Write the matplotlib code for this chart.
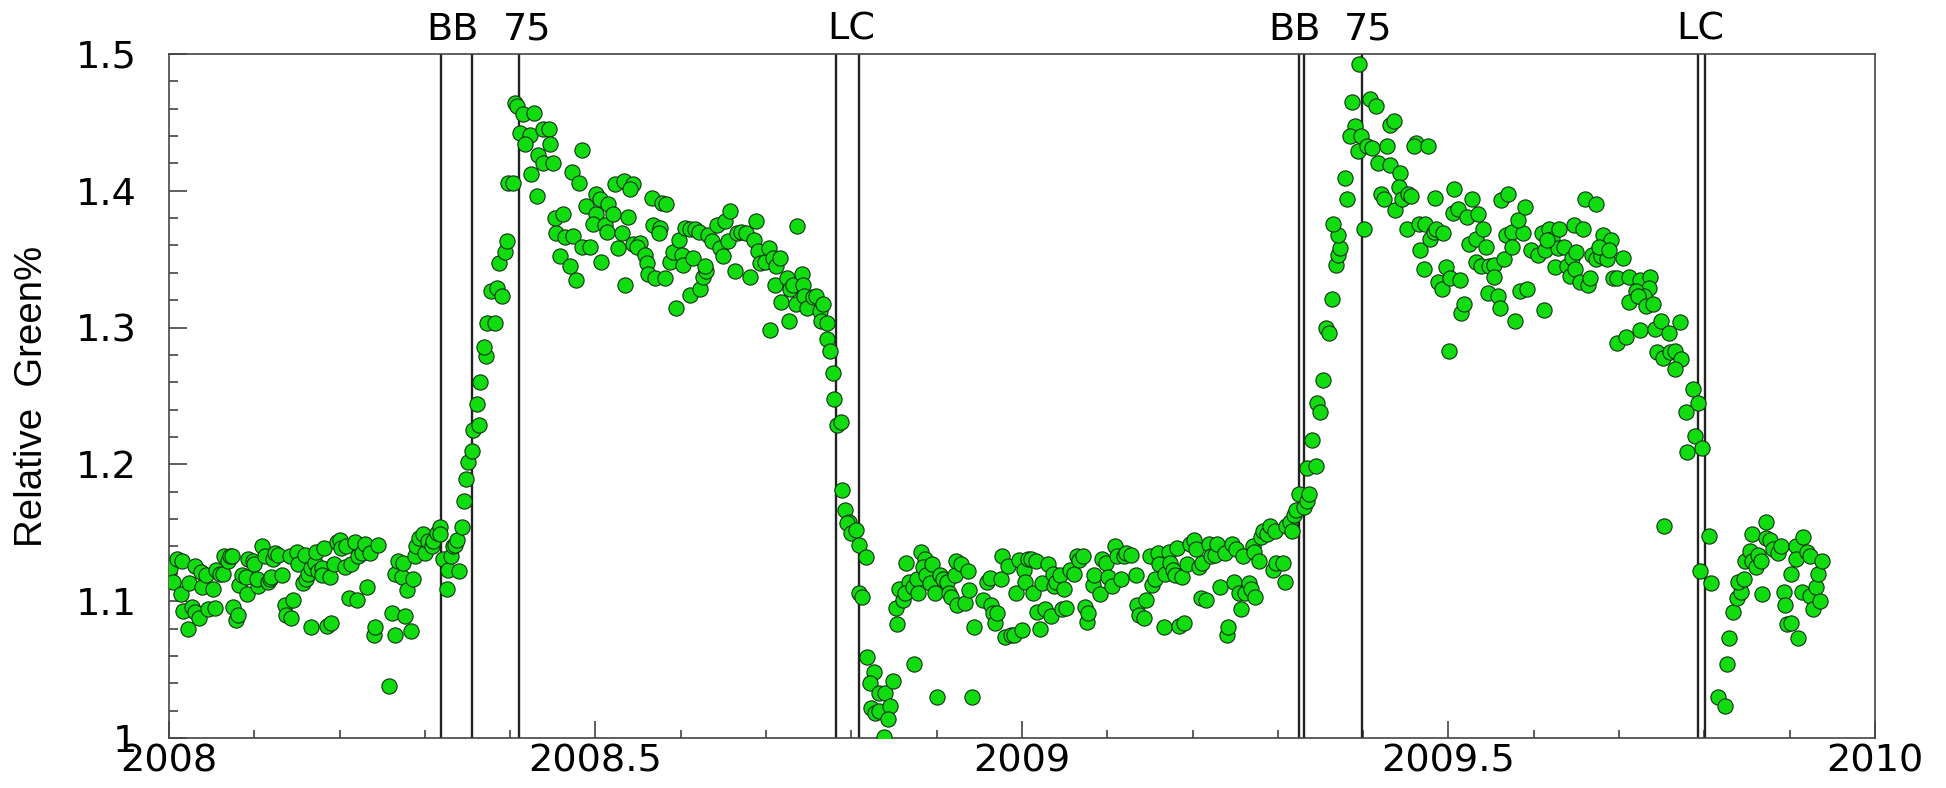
import numpy as np
import matplotlib
matplotlib.use("Agg")
import matplotlib.pyplot as plt

# winter / spring 2008 up to the first green-up
t_2008a = [2008.001, 2008.005, 2008.009, 2008.015, 2008.014, 2008.017, 2008.022, 2008.023, 2008.027, 2008.031,
           2008.030, 2008.035, 2008.038, 2008.039, 2008.044, 2008.046, 2008.052, 2008.054, 2008.055, 2008.060,
           2008.063, 2008.064, 2008.069, 2008.072, 2008.074, 2008.075, 2008.079, 2008.081, 2008.082, 2008.086,
           2008.091, 2008.090, 2008.093, 2008.099, 2008.100, 2008.105, 2008.103, 2008.109, 2008.113, 2008.116,
           2008.118, 2008.120, 2008.122, 2008.124, 2008.128, 2008.133, 2008.136, 2008.137, 2008.143, 2008.142,
           2008.146, 2008.150, 2008.151, 2008.157, 2008.159, 2008.161, 2008.163, 2008.167, 2008.167, 2008.171,
           2008.173, 2008.175, 2008.179, 2008.180, 2008.182, 2008.185, 2008.190, 2008.189, 2008.193, 2008.197,
           2008.200, 2008.202, 2008.206, 2008.208, 2008.211, 2008.214, 2008.220, 2008.218, 2008.222, 2008.226,
           2008.230, 2008.232, 2008.236, 2008.240, 2008.242, 2008.245, 2008.258, 2008.262, 2008.265, 2008.265,
           2008.268, 2008.273, 2008.275, 2008.277, 2008.279, 2008.284, 2008.286, 2008.288, 2008.290, 2008.293,
           2008.298, 2008.300, 2008.304, 2008.308, 2008.310, 2008.314, 2008.318, 2008.318, 2008.321, 2008.326,
           2008.327, 2008.331, 2008.333, 2008.335, 2008.338, 2008.340, 2008.343, 2008.346, 2008.348, 2008.351,
           2008.355, 2008.356, 2008.361, 2008.364]
g_2008a = [1.124, 1.114, 1.131, 1.129, 1.105, 1.093, 1.080, 1.113, 1.096, 1.126,
           1.092, 1.088, 1.121, 1.110, 1.119, 1.094, 1.109, 1.095, 1.123, 1.120,
           1.120, 1.133, 1.129, 1.133, 1.133, 1.096, 1.086, 1.090, 1.112, 1.119,
           1.105, 1.118, 1.131, 1.129, 1.127, 1.111, 1.116, 1.140, 1.133, 1.114,
           1.116, 1.118, 1.131, 1.135, 1.134, 1.119, 1.097, 1.090, 1.088, 1.133,
           1.101, 1.136, 1.127, 1.113, 1.134, 1.116, 1.120, 1.081, 1.124, 1.128,
           1.136, 1.122, 1.124, 1.119, 1.139, 1.082, 1.084, 1.118, 1.127, 1.143,
           1.145, 1.139, 1.125, 1.140, 1.102, 1.127, 1.101, 1.143, 1.133, 1.135,
           1.142, 1.110, 1.135, 1.075, 1.081, 1.141, 1.038, 1.091, 1.120, 1.075,
           1.129, 1.118, 1.128, 1.089, 1.108, 1.078, 1.116, 1.133, 1.140, 1.146,
           1.149, 1.135, 1.144, 1.140, 1.144, 1.150, 1.154, 1.149, 1.131, 1.109,
           1.123, 1.133, 1.140, 1.141, 1.145, 1.122, 1.154, 1.173, 1.189, 1.202,
           1.210, 1.225, 1.244, 1.229]

# 2008 growing season and leaf colouring
t_2008b = [2008.365, 2008.372, 2008.369, 2008.373, 2008.382, 2008.378, 2008.385, 2008.390, 2008.387, 2008.394,
           2008.396, 2008.397, 2008.403, 2008.406, 2008.408, 2008.415, 2008.428, 2008.411, 2008.423, 2008.417,
           2008.433, 2008.439, 2008.450, 2008.425, 2008.431, 2008.439, 2008.445, 2008.447, 2008.484, 2008.472,
           2008.481, 2008.453, 2008.462, 2008.454, 2008.464, 2008.474, 2008.458, 2008.470, 2008.477, 2008.484,
           2008.494, 2008.489, 2008.501, 2008.505, 2008.515, 2008.501, 2008.497, 2008.511, 2008.513, 2008.521,
           2008.507, 2008.523, 2008.533, 2008.544, 2008.540, 2008.538, 2008.531, 2008.527, 2008.535, 2008.544,
           2008.552, 2008.549, 2008.558, 2008.560, 2008.562, 2008.570, 2008.582, 2008.566, 2008.578, 2008.583,
           2008.568, 2008.576, 2008.574, 2008.588, 2008.591, 2008.598, 2008.601, 2008.603, 2008.594, 2008.605,
           2008.611, 2008.617, 2008.621, 2008.614, 2008.611, 2008.623, 2008.626, 2008.630, 2008.628, 2008.632,
           2008.637, 2008.642, 2008.652, 2008.658, 2008.646, 2008.649, 2008.656, 2008.664, 2008.666, 2008.671,
           2008.677, 2008.681, 2008.686, 2008.688, 2008.691, 2008.693, 2008.699, 2008.703, 2008.705, 2008.708,
           2008.712, 2008.716, 2008.710, 2008.718, 2008.724, 2008.728, 2008.727, 2008.732, 2008.736, 2008.735,
           2008.742, 2008.743, 2008.744, 2008.748, 2008.755, 2008.759, 2008.763, 2008.767, 2008.764, 2008.772,
           2008.772, 2008.775, 2008.778, 2008.780, 2008.783, 2008.788, 2008.789, 2008.793, 2008.797, 2008.795,
           2008.800, 2008.805, 2008.809, 2008.817, 2008.809, 2008.813, 2008.818, 2008.826, 2008.822, 2008.833,
           2008.839, 2008.823, 2008.828, 2008.833, 2008.845, 2008.843, 2008.838, 2008.849]
g_2008b = [1.260, 1.279, 1.286, 1.303, 1.303, 1.327, 1.329, 1.323, 1.347, 1.355,
           1.363, 1.406, 1.406, 1.464, 1.462, 1.456, 1.457, 1.442, 1.441, 1.434,
           1.426, 1.420, 1.420, 1.412, 1.396, 1.445, 1.445, 1.434, 1.430, 1.414,
           1.406, 1.380, 1.383, 1.369, 1.366, 1.367, 1.352, 1.345, 1.335, 1.359,
           1.359, 1.389, 1.398, 1.394, 1.390, 1.383, 1.376, 1.375, 1.370, 1.383,
           1.348, 1.405, 1.407, 1.405, 1.401, 1.381, 1.369, 1.358, 1.331, 1.361,
           1.362, 1.359, 1.353, 1.347, 1.339, 1.336, 1.336, 1.395, 1.391, 1.390,
           1.375, 1.373, 1.369, 1.348, 1.355, 1.364, 1.353, 1.346, 1.314, 1.373,
           1.372, 1.372, 1.370, 1.351, 1.324, 1.328, 1.337, 1.341, 1.345, 1.368,
           1.363, 1.375, 1.378, 1.385, 1.358, 1.352, 1.363, 1.341, 1.369, 1.370,
           1.369, 1.337, 1.364, 1.378, 1.356, 1.347, 1.348, 1.358, 1.298, 1.351,
           1.345, 1.351, 1.331, 1.319, 1.336, 1.328, 1.305, 1.331, 1.374, 1.317,
           1.339, 1.331, 1.323, 1.314, 1.322, 1.323, 1.312, 1.317, 1.305, 1.303,
           1.292, 1.283, 1.267, 1.248, 1.229, 1.231, 1.181, 1.167, 1.158, 1.157,
           1.150, 1.152, 1.141, 1.132, 1.106, 1.103, 1.059, 1.048, 1.040, 1.033,
           1.033, 1.022, 1.018, 1.020, 1.023, 1.014, 1.001, 1.042]

# winter 2008/09 up to the second green-up
t_2009a = [2008.854, 2008.852, 2008.856, 2008.861, 2008.864, 2008.868, 2008.863, 2008.872, 2008.877, 2008.878,
           2008.873, 2008.882, 2008.886, 2008.884, 2008.888, 2008.892, 2008.895, 2008.898, 2008.901, 2008.904,
           2008.908, 2008.912, 2008.915, 2008.917, 2008.921, 2008.923, 2008.924, 2008.928, 2008.933, 2008.937,
           2008.938, 2008.944, 2008.942, 2008.954, 2008.959, 2008.962, 2008.964, 2008.966, 2008.969, 2008.971,
           2008.975, 2008.977, 2008.980, 2008.984, 2008.987, 2008.991, 2008.993, 2008.996, 2009.000, 2009.002,
           2009.004, 2009.007, 2009.011, 2009.013, 2009.016, 2009.018, 2009.021, 2009.023, 2009.027, 2009.031,
           2009.034, 2009.036, 2009.038, 2009.040, 2009.045, 2009.047, 2009.049, 2009.052, 2009.056, 2009.061,
           2009.064, 2009.067, 2009.071, 2009.074, 2009.076, 2009.078, 2009.083, 2009.085, 2009.091, 2009.094,
           2009.098, 2009.101, 2009.105, 2009.109, 2009.112, 2009.116, 2009.120, 2009.122, 2009.128, 2009.134,
           2009.135, 2009.137, 2009.143, 2009.146, 2009.150, 2009.153, 2009.156, 2009.159, 2009.161, 2009.166,
           2009.168, 2009.172, 2009.174, 2009.177, 2009.179, 2009.182, 2009.184, 2009.188, 2009.190, 2009.194,
           2009.197, 2009.202, 2009.204, 2009.207, 2009.210, 2009.211, 2009.216, 2009.219, 2009.222, 2009.226,
           2009.229, 2009.232, 2009.238, 2009.240, 2009.242, 2009.246, 2009.249, 2009.251, 2009.254, 2009.257,
           2009.259, 2009.262, 2009.266, 2009.268, 2009.271, 2009.273, 2009.272, 2009.278, 2009.280, 2009.283,
           2009.287, 2009.291, 2009.294, 2009.297, 2009.298, 2009.306, 2009.308, 2009.309, 2009.314, 2009.317,
           2009.319, 2009.321, 2009.325, 2009.331, 2009.334, 2009.336, 2009.334, 2009.340, 2009.345, 2009.346,
           2009.349]
g_2009a = [1.083, 1.095, 1.109, 1.101, 1.128, 1.114, 1.106, 1.110, 1.116, 1.106,
           1.054, 1.136, 1.131, 1.125, 1.119, 1.113, 1.127, 1.106, 1.030, 1.119,
           1.116, 1.114, 1.106, 1.103, 1.119, 1.129, 1.097, 1.127, 1.099, 1.122,
           1.108, 1.081, 1.030, 1.101, 1.114, 1.117, 1.097, 1.091, 1.084, 1.091,
           1.116, 1.133, 1.074, 1.126, 1.075, 1.075, 1.106, 1.130, 1.079, 1.123,
           1.114, 1.131, 1.131, 1.106, 1.129, 1.092, 1.080, 1.113, 1.094, 1.127,
           1.089, 1.120, 1.111, 1.114, 1.119, 1.094, 1.109, 1.095, 1.123, 1.120,
           1.133, 1.130, 1.133, 1.096, 1.085, 1.091, 1.112, 1.119, 1.105, 1.131,
           1.128, 1.118, 1.111, 1.140, 1.133, 1.116, 1.133, 1.135, 1.134, 1.119,
           1.097, 1.090, 1.088, 1.101, 1.133, 1.112, 1.116, 1.135, 1.127, 1.081,
           1.120, 1.136, 1.128, 1.123, 1.119, 1.139, 1.082, 1.118, 1.084, 1.127,
           1.142, 1.145, 1.138, 1.125, 1.102, 1.128, 1.101, 1.142, 1.133, 1.134,
           1.142, 1.110, 1.135, 1.075, 1.081, 1.142, 1.114, 1.138, 1.106, 1.094,
           1.133, 1.106, 1.113, 1.109, 1.140, 1.103, 1.136, 1.129, 1.147, 1.151,
           1.149, 1.155, 1.123, 1.151, 1.128, 1.128, 1.114, 1.155, 1.158, 1.151,
           1.163, 1.167, 1.178, 1.169, 1.173, 1.178, 1.197, 1.218, 1.199, 1.245,
           1.238]

# 2009 growing season, leaf colouring and early winter
t_2009b = [2009.353, 2009.357, 2009.360, 2009.363, 2009.368, 2009.370, 2009.373, 2009.371, 2009.365, 2009.379,
           2009.381, 2009.387, 2009.390, 2009.385, 2009.395, 2009.394, 2009.398, 2009.401, 2009.404, 2009.408,
           2009.415, 2009.410, 2009.417, 2009.421, 2009.425, 2009.428, 2009.432, 2009.436, 2009.432, 2009.437,
           2009.443, 2009.442, 2009.445, 2009.453, 2009.456, 2009.451, 2009.462, 2009.460, 2009.476, 2009.466,
           2009.473, 2009.467, 2009.471, 2009.478, 2009.483, 2009.485, 2009.494, 2009.484, 2009.488, 2009.493,
           2009.497, 2009.502, 2009.514, 2009.501, 2009.507, 2009.505, 2009.511, 2009.522, 2009.528, 2009.535,
           2009.515, 2009.518, 2009.524, 2009.532, 2009.541, 2009.544, 2009.532, 2009.538, 2009.547, 2009.553,
           2009.553, 2009.546, 2009.558, 2009.560, 2009.565, 2009.562, 2009.570, 2009.568, 2009.575, 2009.574,
           2009.587, 2009.578, 2009.582, 2009.590, 2009.584, 2009.592, 2009.597, 2009.605, 2009.613, 2009.610,
           2009.618, 2009.621, 2009.630, 2009.629, 2009.616, 2009.635, 2009.612, 2009.625, 2009.639, 2009.642,
           2009.647, 2009.658, 2009.645, 2009.650, 2009.648, 2009.654, 2009.663, 2009.666, 2009.660, 2009.673,
           2009.668, 2009.673, 2009.679, 2009.686, 2009.681, 2009.691, 2009.676, 2009.688, 2009.693, 2009.698,
           2009.705, 2009.712, 2009.724, 2009.736, 2009.735, 2009.720, 2009.729, 2009.712, 2009.722, 2009.732,
           2009.740, 2009.697, 2009.708, 2009.724, 2009.742, 2009.749, 2009.758, 2009.771, 2009.745, 2009.751,
           2009.760, 2009.766, 2009.773, 2009.766, 2009.787, 2009.792, 2009.779, 2009.789, 2009.797, 2009.780,
           2009.753, 2009.805, 2009.795, 2009.808, 2009.816, 2009.824, 2009.826, 2009.829, 2009.833, 2009.838,
           2009.843, 2009.839, 2009.847, 2009.848, 2009.853, 2009.856, 2009.860, 2009.863, 2009.866, 2009.856,
           2009.872, 2009.872, 2009.877, 2009.880, 2009.886, 2009.890, 2009.868, 2009.893, 2009.895, 2009.897,
           2009.902, 2009.902, 2009.908, 2009.907, 2009.910, 2009.916, 2009.914, 2009.924, 2009.927, 2009.920,
           2009.924, 2009.931, 2009.935, 2009.933, 2009.938]
g_2009b = [1.262, 1.300, 1.296, 1.321, 1.346, 1.353, 1.358, 1.368, 1.376, 1.409,
           1.394, 1.465, 1.447, 1.440, 1.493, 1.429, 1.440, 1.372, 1.433, 1.467,
           1.462, 1.431, 1.420, 1.398, 1.394, 1.433, 1.448, 1.451, 1.419, 1.386,
           1.413, 1.403, 1.394, 1.398, 1.396, 1.372, 1.435, 1.433, 1.433, 1.376,
           1.376, 1.357, 1.343, 1.365, 1.370, 1.372, 1.369, 1.395, 1.333, 1.328,
           1.344, 1.336, 1.335, 1.283, 1.401, 1.384, 1.387, 1.381, 1.394, 1.383,
           1.311, 1.317, 1.361, 1.365, 1.372, 1.359, 1.348, 1.345, 1.345, 1.346,
           1.337, 1.325, 1.323, 1.314, 1.350, 1.393, 1.398, 1.368, 1.370, 1.359,
           1.369, 1.305, 1.379, 1.388, 1.327, 1.328, 1.357, 1.353, 1.357, 1.369,
           1.372, 1.365, 1.372, 1.358, 1.364, 1.359, 1.313, 1.344, 1.345, 1.338,
           1.375, 1.372, 1.351, 1.355, 1.343, 1.333, 1.331, 1.336, 1.394, 1.390,
           1.353, 1.350, 1.352, 1.350, 1.368, 1.364, 1.359, 1.357, 1.336, 1.336,
           1.351, 1.337, 1.335, 1.337, 1.329, 1.327, 1.323, 1.319, 1.323, 1.316,
           1.317, 1.289, 1.293, 1.298, 1.299, 1.305, 1.296, 1.304, 1.282, 1.278,
           1.282, 1.283, 1.277, 1.270, 1.255, 1.245, 1.238, 1.221, 1.212, 1.209,
           1.155, 1.148, 1.122, 1.113, 1.030, 1.023, 1.054, 1.073, 1.092, 1.102,
           1.107, 1.114, 1.116, 1.129, 1.137, 1.129, 1.125, 1.134, 1.129, 1.149,
           1.158, 1.146, 1.145, 1.138, 1.135, 1.140, 1.105, 1.107, 1.097, 1.083,
           1.084, 1.120, 1.140, 1.131, 1.073, 1.147, 1.107, 1.104, 1.094, 1.136,
           1.133, 1.110, 1.100, 1.120, 1.129]

# phenology events (decimal year)
event_dates = [2008.319, 2008.355, 2008.410, 2008.782, 2008.809,
               2009.325, 2009.331, 2009.399, 2009.793, 2009.801]
event_labels = ["BB", "75", "LC", "BB", "75", "LC"]
event_label_x = [2008.333, 2008.420, 2008.800, 2009.320, 2009.406, 2009.795]

xtick_vals = [2008, 2008.5, 2009, 2009.5, 2010]
xtick_text = ["2008", "2008.5", "2009", "2009.5", "2010"]
ytick_vals = [1.0, 1.1, 1.2, 1.3, 1.4, 1.5]
ytick_text = ["1", "1.1", "1.2", "1.3", "1.4", "1.5"]

t = np.concatenate([t_2008a, t_2008b, t_2009a, t_2009b])
g = np.concatenate([g_2008a, g_2008b, g_2009a, g_2009b])

fig = plt.figure(figsize=(19.46, 7.88), dpi=100)
ax = fig.add_axes([0.0868, 0.0635, 0.8767, 0.868])

for d in event_dates:
    ax.axvline(d, color="#222222", lw=1.7, zorder=2)

ax.scatter(t, g, s=120, c="#10dc10", edgecolors="#123012", linewidths=0.8, zorder=3)

for lx, lab in zip(event_label_x, event_labels):
    ax.text(lx, 1.0205, lab, transform=ax.get_xaxis_transform(), ha="center",
            va="baseline", fontsize=27.5, clip_on=False)

ax.set_xlim(2008, 2010)
ax.set_ylim(1.0, 1.5)
ax.set_xticks(xtick_vals)
ax.set_xticklabels(xtick_text)
ax.set_xticks(np.arange(2008, 2010.001, 0.1), minor=True)
ax.set_yticks(ytick_vals)
ax.set_yticklabels(ytick_text)
ax.set_yticks(np.arange(1.0, 1.5001, 0.02), minor=True)

ax.tick_params(which="both", direction="in", top=False, right=False,
               color="#333333", width=1.1, labelsize=27.5)
ax.tick_params(axis="x", which="major", length=12, pad=4)
ax.tick_params(axis="x", which="minor", length=6)
ax.tick_params(axis="y", which="major", length=13, pad=23)
ax.tick_params(axis="y", which="minor", length=6.5)

for sp in ax.spines.values():
    sp.set_color("#444444")
    sp.set_linewidth(1.2)

ax.set_ylabel("Relative  Green%", fontsize=27.6, family="Liberation Sans")
ax.yaxis.set_label_coords(-0.0698, 0.5)

fig.savefig("out.png", dpi=100)
